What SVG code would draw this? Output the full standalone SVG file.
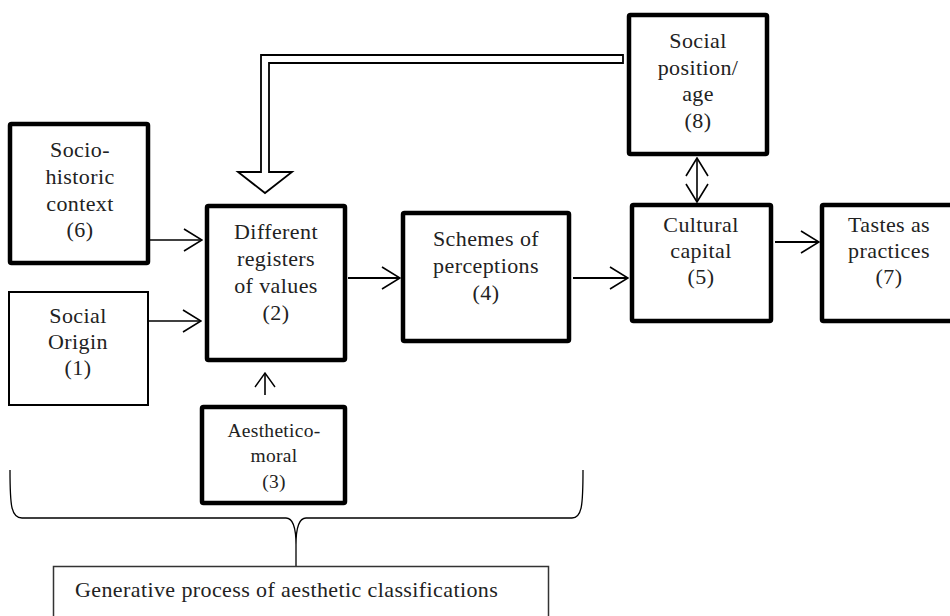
<svg xmlns="http://www.w3.org/2000/svg" width="950" height="616" viewBox="0 0 950 616">
<style>
  .box { fill: #fff; stroke: #000; stroke-width: 4.5; stroke-linejoin: round; }
  .thin { fill: #fff; stroke: #000; stroke-width: 2; }
  .gen { fill: #fff; stroke: #333; stroke-width: 1.5; }
  .lbl { font-family: "Liberation Serif", "Times New Roman", serif; font-size: 22px; fill: #222; text-anchor: middle; letter-spacing: 0.4px; }
  .small { font-size: 19.5px; letter-spacing: 0.3px; }
  .conn { fill: none; stroke: #000; stroke-width: 1.6; }
  .conn2 { fill: none; stroke: #000; stroke-width: 2; }
</style>
<defs>
  <marker id="ah" viewBox="0 0 20 24" refX="19" refY="12" markerWidth="20" markerHeight="24" markerUnits="userSpaceOnUse" orient="auto-start-reverse">
    <path d="M1,1 L19,12 L1,23" fill="none" stroke="#000" stroke-width="1.6"/>
  </marker>
  <marker id="ahs" viewBox="0 0 16 22" refX="15" refY="11" markerWidth="16" markerHeight="22" markerUnits="userSpaceOnUse" orient="auto-start-reverse">
    <path d="M1,1 L15,11 L1,21" fill="none" stroke="#000" stroke-width="1.4"/>
  </marker>
</defs>
<rect width="950" height="616" fill="#fff"/>

<g id="connectors">
  <line class="conn" x1="150" y1="240" x2="202" y2="240" marker-end="url(#ah)"/>
  <line class="conn" x1="149" y1="321" x2="201" y2="321" marker-end="url(#ah)"/>
  <line class="conn2" x1="348" y1="278" x2="400" y2="278" marker-end="url(#ah)"/>
  <line class="conn2" x1="573" y1="278" x2="628" y2="278" marker-end="url(#ah)"/>
  <line class="conn2" x1="775" y1="242" x2="819" y2="242" marker-end="url(#ah)"/>
  <line class="conn" x1="697" y1="158" x2="697" y2="202" marker-start="url(#ah)" marker-end="url(#ah)"/>
  <line class="conn" x1="265" y1="395" x2="265" y2="373" marker-end="url(#ahs)"/>
  <polygon points="623,55 261,55 261,172 238,172 265,193 292,172 269,172 269,63 623,63" fill="#fff" stroke="#000" stroke-width="1.8" stroke-linejoin="miter"/>
  <path d="M10,470 C10,505 11,518 22,518 L286,518 C293,518 296,528 296,545 L296,566 M296,545 C296,528 299,518 306,518 L572,518 C582,518 583,505 583,470" fill="none" stroke="#000" stroke-width="1.3"/>
</g>

<g id="n6">
  <rect class="box" x="10" y="124" width="138" height="139" rx="1.5"/>
  <text class="lbl" x="80" y="157">Socio-</text>
  <text class="lbl" x="80" y="184">historic</text>
  <text class="lbl" x="80" y="211">context</text>
  <text class="lbl" x="80" y="237">(6)</text>
</g>
<g id="n1">
  <rect class="thin" x="9" y="292" width="139" height="113"/>
  <text class="lbl" x="78" y="323">Social</text>
  <text class="lbl" x="78" y="349">Origin</text>
  <text class="lbl" x="78" y="375">(1)</text>
</g>
<g id="n2">
  <rect class="box" x="207" y="206" width="138" height="154" rx="1.5"/>
  <text class="lbl" x="276" y="239">Different</text>
  <text class="lbl" x="276" y="266">registers</text>
  <text class="lbl" x="276" y="293">of values</text>
  <text class="lbl" x="276" y="320">(2)</text>
</g>
<g id="n4">
  <rect class="box" x="403" y="213" width="166" height="128" rx="1.5"/>
  <text class="lbl" x="486" y="246">Schemes of</text>
  <text class="lbl" x="486" y="273">perceptions</text>
  <text class="lbl" x="486" y="300">(4)</text>
</g>
<g id="n8">
  <rect class="box" x="629" y="15" width="138" height="139" rx="1.5"/>
  <text class="lbl" x="698" y="48">Social</text>
  <text class="lbl" x="698" y="75">position/</text>
  <text class="lbl" x="698" y="101">age</text>
  <text class="lbl" x="698" y="128">(8)</text>
</g>
<g id="n5">
  <rect class="box" x="632" y="205" width="139" height="116" rx="1.5"/>
  <text class="lbl" x="701" y="232">Cultural</text>
  <text class="lbl" x="701" y="258">capital</text>
  <text class="lbl" x="701" y="284">(5)</text>
</g>
<g id="n7">
  <rect class="box" x="822" y="205" width="136" height="116" rx="1.5"/>
  <text class="lbl" x="889" y="232">Tastes as</text>
  <text class="lbl" x="889" y="258">practices</text>
  <text class="lbl" x="889" y="284">(7)</text>
</g>
<g id="n3">
  <rect class="box" x="202" y="407" width="143" height="96" rx="1.5"/>
  <text class="lbl small" x="274" y="437">Aesthetico-</text>
  <text class="lbl small" x="274" y="462">moral</text>
  <text class="lbl small" x="274" y="488">(3)</text>
</g>
<g id="gen">
  <rect class="gen" x="53.5" y="566.5" width="495" height="80"/>
  <text class="lbl" x="75" y="597" style="text-anchor:start;font-size:22px;letter-spacing:0.4px">Generative process of aesthetic classifications</text>
</g>
</svg>
